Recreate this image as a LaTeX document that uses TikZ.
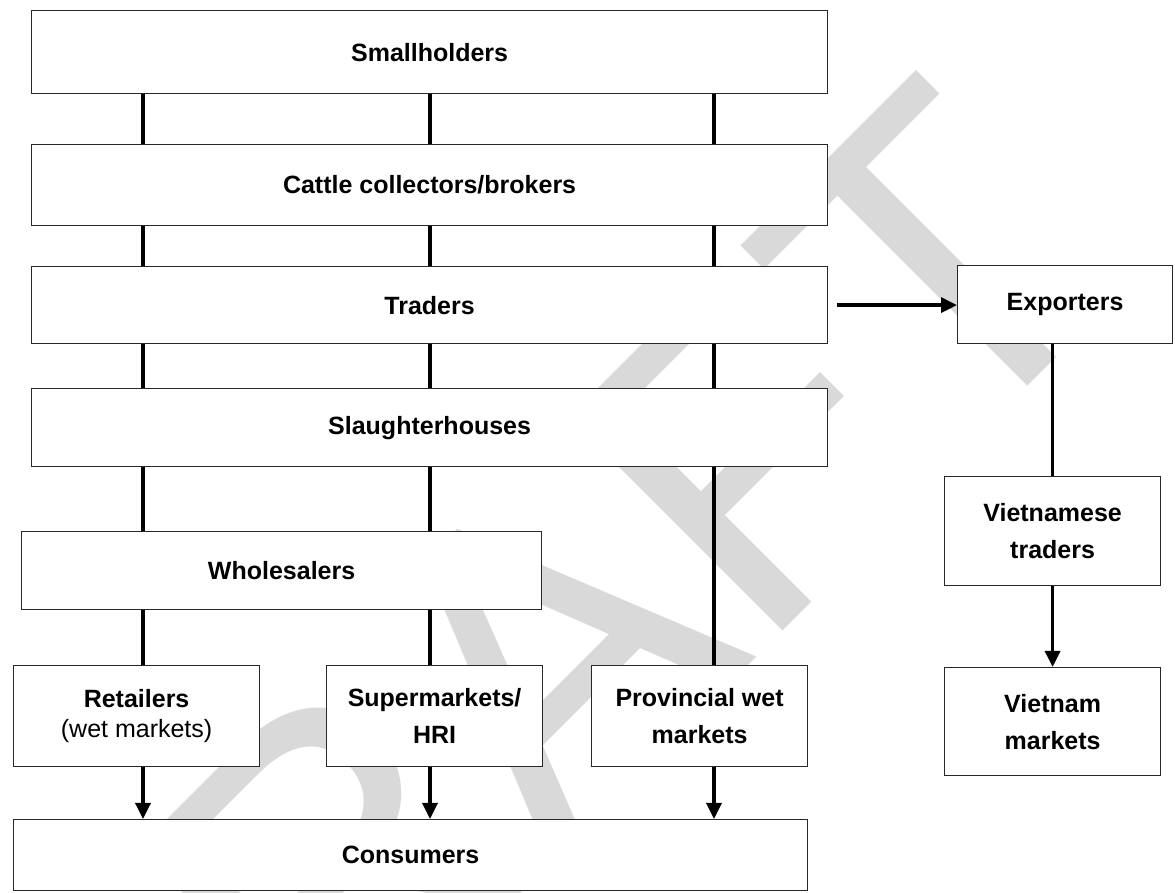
\documentclass[tikz,border=0pt]{standalone}
\usepackage{fontspec}
\setmainfont{Liberation Sans}
\usepackage{tikz}
\usetikzlibrary{arrows.meta}
\definecolor{WaterGray}{RGB}{217,217,217}
\definecolor{BoxLine}{RGB}{40,40,40}

\begin{document}
\begin{tikzpicture}[x=0.5pt, y=-0.5pt, >={Triangle[length=8pt,width=7.5pt]},
       every node/.style={font=\fontsize{12.5}{18.5}\selectfont},
       chainbox/.style 2 args = {rectangle, anchor=north west, draw=BoxLine, line width=0.6pt,
                                 fill=white, minimum width=#1, minimum height=#2,
                                 inner sep=1pt, align=center,
                                 font=\fontsize{12.5}{18.5}\selectfont\bfseries},
       link/.style = {line width=1.7pt}]
	\useasboundingbox (0,0) rectangle (1175,893);

	%% Watermark
	\begin{scope}
		\clip (0,0) rectangle (1175,893);
		\node [WaterGray, anchor=base west, rotate=45, inner sep=0pt,
		       font=\fontsize{219.5}{220}\selectfont] (draft) at (102,1312) {DRAFT};
	\end{scope}

	%% Lanes of the main chain
	\coordinate (lane1) at (143,0);
	\coordinate (lane2) at (430,0);
	\coordinate (lane3) at (714,0);

	%% Main chain
	\node [chainbox={398pt}{41.5pt}] (small) at (31,10) {Smallholders};
	\node [chainbox={398pt}{40.5pt}] (cattle) at (31,144) {Cattle collectors/brokers};
	\node [chainbox={398pt}{38.5pt}] (traders) at (31,266) {Traders};
	\node [chainbox={398pt}{39pt}] (slaughter) at (31,388) {Slaughterhouses};
	\node [chainbox={260pt}{39pt}] (whole) at (21,531) {Wholesalers};
	\node [chainbox={123pt}{50.5pt}] (retail) at (13,665) {Retailers\\[-3.5pt]{\mdseries (wet markets)}};
	\node [chainbox={108pt}{50.5pt}] (super) at (326,665) {Supermarkets/\\HRI};
	\node [chainbox={108pt}{50.5pt}] (prov) at (591,665) {Provincial wet\\markets};
	\node [chainbox={397pt}{35.5pt}] (cons) at (13,819) {Consumers};

	%% Export chain
	\node [chainbox={107.5pt}{39pt}] (export) at (957,265) {Exporters};
	\node [chainbox={108pt}{54.5pt}] (vtrade) at (944,476) {Vietnamese\\traders};
	\node [chainbox={108pt}{54pt}] (vmarket) at (944,667) {Vietnam\\markets};

	%% Simple links
	\draw[link] (small.south -| lane1) -- (cattle.north -| lane1)
	            (small.south -| lane2) -- (cattle.north -| lane2)
	            (small.south -| lane3) -- (cattle.north -| lane3);
	\draw[link] (cattle.south -| lane1) -- (traders.north -| lane1)
	            (cattle.south -| lane2) -- (traders.north -| lane2)
	            (cattle.south -| lane3) -- (traders.north -| lane3);
	\draw[link] (traders.south -| lane1) -- (slaughter.north -| lane1)
	            (traders.south -| lane2) -- (slaughter.north -| lane2)
	            (traders.south -| lane3) -- (slaughter.north -| lane3);
	\draw[link] (slaughter.south -| lane1) -- (whole.north -| lane1)
	            (slaughter.south -| lane2) -- (whole.north -| lane2);
	\draw[link] (slaughter.south -| lane3) -- (prov.north -| lane3);
	\draw[link] (whole.south -| lane1) -- (retail.north -| lane1)
	            (whole.south -| lane2) -- (super.north -| lane2);

	%% Arrows into consumers
	\draw[link,->] (retail.south -| lane1) -- (cons.north -| lane1);
	\draw[link,->] (super.south -| lane2) -- (cons.north -| lane2);
	\draw[link,->] (prov.south -| lane3) -- (cons.north -| lane3);

	%% Export links
	\draw[link,->,shorten <=4.5pt] (traders.east) -- (traders.east -| export.west);
	\draw[link] (export.south -| vtrade.north) -- (vtrade.north);
	\draw[link,->] (vtrade.south) -- (vmarket.north);
\end{tikzpicture}
\end{document}
